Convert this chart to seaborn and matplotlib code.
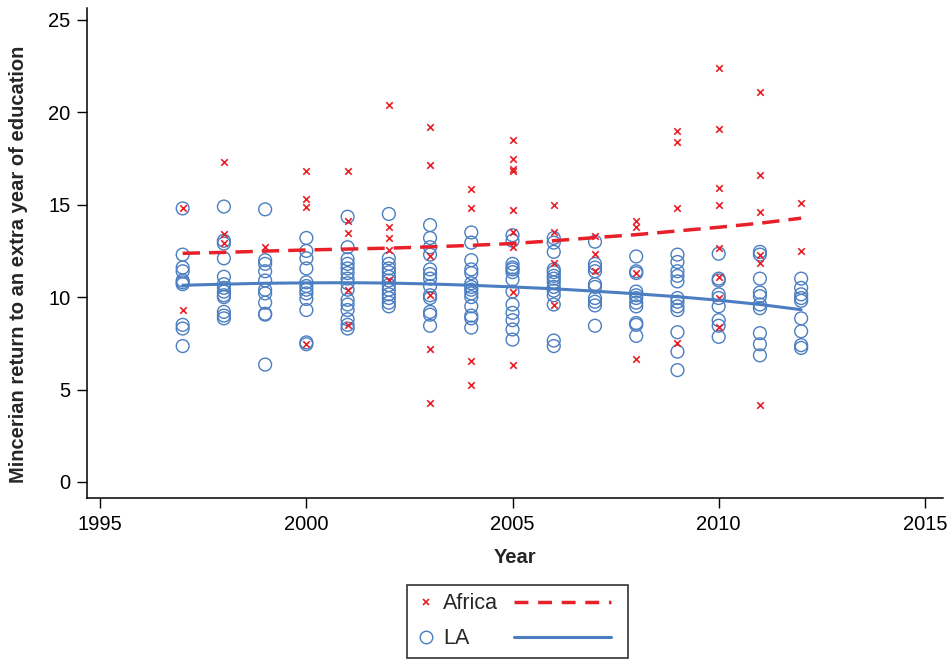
import matplotlib

matplotlib.use("Agg")

import matplotlib.pyplot as plt
import pandas as pd
import seaborn as sns
from matplotlib.legend_handler import HandlerBase
from matplotlib.lines import Line2D

# Mincerian returns by year
la_years = (
    [1997] * 10 + [1998] * 13 + [1999] * 11 + [2000] * 12 + [2001] * 15
    + [2002] * 13 + [2003] * 13 + [2004] * 14 + [2005] * 13 + [2006] * 14
    + [2007] * 10 + [2008] * 11 + [2009] * 12 + [2010] * 9 + [2011] * 10
    + [2012] * 9
)
la_values = [
    14.8, 12.3, 11.6, 11.4, 10.9, 10.8, 10.7, 8.5, 8.3, 7.35,  # 1997
    14.9, 13.05, 12.9, 12.1, 11.1, 10.7, 10.5, 10.3, 10.1, 10.0, 9.2, 9.0, 8.85,  # 1998
    14.75, 12.0, 11.8, 11.4, 10.9, 10.4, 10.2, 9.7, 9.1, 9.05, 6.35,  # 1999
    13.2, 12.5, 12.1, 11.55, 10.8, 10.6, 10.4, 10.2, 9.9, 9.3, 7.55, 7.45,  # 2000
    14.35, 12.7, 12.05, 11.8, 11.55, 11.3, 11.0, 10.75, 10.4, 9.85, 9.6, 9.3, 8.8, 8.5, 8.3,  # 2001
    14.5, 12.1, 11.8, 11.55, 11.35, 11.1, 10.9, 10.65, 10.4, 10.15, 9.95, 9.7, 9.5,  # 2002
    13.9, 13.2, 12.7, 12.3, 11.5, 11.25, 11.0, 10.6, 10.1, 9.95, 9.2, 9.05, 8.45,  # 2003
    13.5, 12.95, 12.0, 11.5, 11.3, 10.75, 10.55, 10.4, 10.2, 10.0, 9.5, 9.0, 8.85, 8.35,  # 2004
    13.35, 13.05, 11.8, 11.6, 11.5, 11.35, 10.95, 10.3, 9.6, 9.15, 8.75, 8.25, 7.7,  # 2005
    13.2, 12.95, 12.45, 11.5, 11.35, 11.15, 11.0, 10.8, 10.55, 10.35, 10.1, 9.6, 7.65, 7.35,  # 2006
    13.0, 11.8, 11.6, 11.4, 10.7, 10.55, 9.95, 9.75, 9.55, 8.45,  # 2007
    12.2, 11.4, 11.3, 10.3, 10.1, 9.95, 9.7, 9.5, 8.6, 8.5, 7.9,  # 2008
    12.3, 11.9, 11.4, 11.15, 10.85, 9.95, 9.75, 9.5, 9.3, 8.1, 7.05, 6.05,  # 2009
    12.35, 11.0, 10.9, 10.15, 9.95, 9.5, 8.75, 8.45, 7.85,  # 2010
    12.45, 12.3, 11.0, 10.25, 10.05, 9.6, 9.4, 8.05, 7.45, 6.85,  # 2011
    11.0, 10.5, 10.15, 9.95, 9.8, 8.85, 8.15, 7.4, 7.25,  # 2012
]

africa_years = (
    [1997] * 2 + [1998] * 3 + [1999] * 1 + [2000] * 4 + [2001] * 5
    + [2002] * 5 + [2003] * 6 + [2004] * 4 + [2005] * 9 + [2006] * 4
    + [2007] * 3 + [2008] * 4 + [2009] * 4 + [2010] * 8 + [2011] * 6
    + [2012] * 2
)
africa_values = [
    14.8, 9.3,  # 1997
    17.3, 13.4, 12.95,  # 1998
    12.7,  # 1999
    16.8, 15.3, 14.85, 7.45,  # 2000
    16.8, 14.1, 13.45, 10.4, 8.5,  # 2001
    20.4, 13.8, 13.2, 12.55, 10.9,  # 2002
    19.2, 17.15, 12.2, 10.1, 7.2, 4.25,  # 2003
    15.85, 14.8, 6.55, 5.25,  # 2004
    18.5, 17.5, 16.95, 16.85, 14.7, 13.55, 12.7, 10.3, 6.3,  # 2005
    15.0, 13.55, 11.85, 9.6,  # 2006
    13.3, 12.35, 11.4,  # 2007
    14.1, 13.8, 11.3, 6.65,  # 2008
    19.0, 18.4, 14.8, 7.5,  # 2009
    22.4, 19.1, 15.9, 15.0, 12.65, 11.1, 9.95, 8.4,  # 2010
    21.1, 16.6, 14.6, 12.3, 11.85, 4.15,  # 2011
    15.1, 12.5,  # 2012
]

# fitted trend lines at each year
fit_years = list(range(1997, 2013))
africa_fit = [12.37, 12.42, 12.49, 12.55, 12.6, 12.65, 12.72, 12.8,
              12.9, 13.05, 13.22, 13.38, 13.58, 13.78, 14.0, 14.27]
la_fit = [10.64, 10.7, 10.75, 10.77, 10.78, 10.76, 10.71, 10.64,
          10.55, 10.45, 10.32, 10.18, 10.02, 9.83, 9.6, 9.32]

BLUE = "#4a7ec1"
RED = "#e8202a"


class LongLineHandler(HandlerBase):
    """Draw a fit-line sample wider than the shared handle box."""

    def __init__(self, length, offset, **kw):
        super().__init__(**kw)
        self.length = length
        self.offset = offset

    def create_artists(self, legend, orig_handle, xdescent, ydescent,
                       width, height, fontsize, trans):
        y = height / 2 - ydescent
        x0 = -xdescent + self.offset * fontsize
        line = Line2D([x0, x0 + self.length * fontsize], [y, y])
        line.update_from(orig_handle)
        line.set_transform(trans)
        return [line]


sns.set_style("ticks")
plt.rcParams["font.family"] = ["Liberation Sans", "DejaVu Sans"]

la = pd.DataFrame({"year": la_years, "value": la_values})
africa = pd.DataFrame({"year": africa_years, "value": africa_values})
fits = pd.DataFrame({"year": fit_years, "africa": africa_fit, "la": la_fit})

fig = plt.figure(figsize=(9.53, 6.6), dpi=100)
ax = fig.add_axes([0.0913, 0.2455, 0.8982, 0.7425])

sns.scatterplot(data=la, x="year", y="value", ax=ax, marker="o", s=85,
                facecolor="none", edgecolor=BLUE, linewidth=1.0, zorder=2)
sns.scatterplot(data=africa, x="year", y="value", ax=ax, marker="x", s=22,
                color=RED, linewidth=1.2, zorder=3)
sns.lineplot(data=fits, x="year", y="africa", ax=ax, color=RED, lw=2.5,
             dashes=(5, 2.6), zorder=4)
sns.lineplot(data=fits, x="year", y="la", ax=ax, color=BLUE, lw=2.2, zorder=4)

ax.set_xlim(1994.68, 2015.44)
ax.set_ylim(-0.87, 25.65)
ax.set_xticks([1995, 2000, 2005, 2010, 2015])
ax.set_yticks([0, 5, 10, 15, 20, 25])
ax.tick_params(axis="both", labelsize=14.5, length=7, width=1, direction="out",
               colors="black", pad=5)
ax.set_xlabel("Year", fontsize=14.5, fontweight="bold", labelpad=10)
ax.set_ylabel("Mincerian return to an extra year of education", fontsize=14.5,
              fontweight="bold")
ax.yaxis.set_label_coords(-0.069, 0.476)
for side in ("top", "right"):
    ax.spines[side].set_visible(False)
for side in ("left", "bottom"):
    ax.spines[side].set_color("black")
    ax.spines[side].set_linewidth(1.1)

h_af = Line2D([], [], marker="x", ls="none", color=RED, markersize=5, mew=1.2)
h_la = Line2D([], [], marker="o", ls="none", mfc="none", mec=BLUE, markersize=9, mew=1.0)
l_af = Line2D([], [], color=RED, lw=2.5, dashes=(4, 2.8))
l_la = Line2D([], [], color=BLUE, lw=2.2)
pad = " " * 15
leg = fig.legend(
    [h_af, h_la, l_af, l_la], ["Africa", "LA", pad, pad],
    ncol=2, loc="lower center", bbox_to_anchor=(0.543, 0.003),
    fontsize=15.5, handlelength=0.9, handletextpad=0.35, columnspacing=0.2,
    labelspacing=0.65, frameon=True, fancybox=False, borderpad=0.4,
    borderaxespad=0.0,
    handler_map={l_af: LongLineHandler(4.5, 0.55), l_la: LongLineHandler(4.5, 0.55)},
)
leg.get_frame().set_edgecolor("black")
leg.get_frame().set_linewidth(1.2)

fig.savefig("out.png", dpi=100)
plt.close(fig)
